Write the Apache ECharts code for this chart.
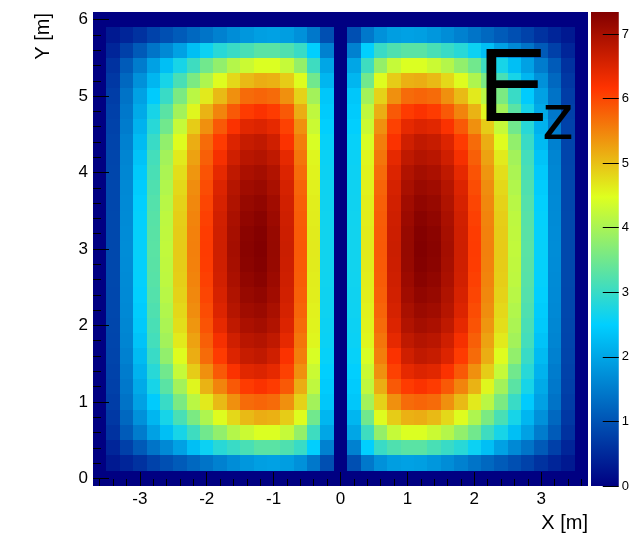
<!DOCTYPE html>
<html>
<head>
<meta charset="utf-8">
<script src="https://cdn.jsdelivr.net/npm/echarts@6/dist/echarts.min.js"></script>
<style>
  html, body { margin: 0; padding: 0; background: #ffffff; }
  #chart { width: 632px; height: 537px; }
</style>
</head>
<body>
<div id="chart"></div>
<script>
// Histogram bin centres (m); bins are 0.2 m wide
const xBins = [-3.6, -3.4, -3.2, -3.0, -2.8, -2.6, -2.4, -2.2, -2.0, -1.8, -1.6, -1.4, -1.2, -1.0, -0.8, -0.6, -0.4, -0.2,
  0.0, 0.2, 0.4, 0.6, 0.8, 1.0, 1.2, 1.4, 1.6, 1.8, 2.0, 2.2, 2.4, 2.6, 2.8, 3.0, 3.2, 3.4, 3.6];
const yBins = [0.0, 0.2, 0.4, 0.6, 0.8, 1.0, 1.2, 1.4, 1.6, 1.8, 2.0, 2.2, 2.4, 2.6, 2.8, 3.0,
  3.2, 3.4, 3.6, 3.8, 4.0, 4.2, 4.4, 4.6, 4.8, 5.0, 5.2, 5.4, 5.6, 5.8, 6.0];

// Ez in the left cell, x = -3.4 ... -0.2; rows run from y = 5.8 down to y = 0.2
const ezLeft = [
  [0.30, 0.45, 0.60, 0.80, 0.95, 1.10, 1.25, 1.40, 1.55, 1.70, 1.82, 1.92, 1.95, 1.90, 1.75, 1.45, 0.95],
  [0.45, 0.78, 1.08, 1.40, 1.65, 1.95, 2.30, 2.60, 2.85, 3.00, 3.15, 3.30, 3.30, 3.20, 3.00, 2.50, 1.55],
  [0.60, 1.10, 1.50, 1.95, 2.30, 2.70, 3.05, 3.50, 3.80, 4.10, 4.30, 4.45, 4.45, 4.25, 3.82, 3.05, 2.00],
  [0.68, 1.25, 1.75, 2.20, 2.70, 3.15, 3.60, 4.05, 4.50, 4.80, 5.05, 5.15, 5.12, 4.90, 4.50, 3.50, 2.20],
  [0.74, 1.38, 1.95, 2.45, 3.00, 3.60, 4.15, 4.65, 5.05, 5.40, 5.70, 5.75, 5.70, 5.40, 4.85, 3.95, 2.40],
  [0.78, 1.45, 2.05, 2.70, 3.30, 3.95, 4.55, 5.10, 5.50, 5.85, 6.10, 6.20, 6.10, 5.85, 5.15, 4.20, 2.45],
  [0.80, 1.50, 2.15, 2.85, 3.50, 4.25, 4.90, 5.40, 5.85, 6.20, 6.45, 6.50, 6.40, 6.05, 5.40, 4.30, 2.50],
  [0.82, 1.55, 2.25, 3.00, 3.80, 4.50, 5.15, 5.70, 6.10, 6.50, 6.70, 6.75, 6.62, 6.20, 5.55, 4.42, 2.55],
  [0.83, 1.60, 2.35, 3.10, 3.95, 4.65, 5.25, 5.80, 6.25, 6.62, 6.82, 6.88, 6.76, 6.40, 5.62, 4.55, 2.58],
  [0.84, 1.62, 2.42, 3.15, 4.02, 4.75, 5.35, 5.90, 6.40, 6.76, 6.96, 7.02, 6.90, 6.50, 5.70, 4.58, 2.60],
  [0.85, 1.65, 2.46, 3.20, 4.08, 4.80, 5.42, 5.96, 6.50, 6.86, 7.06, 7.12, 6.98, 6.56, 5.76, 4.60, 2.62],
  [0.85, 1.67, 2.50, 3.24, 4.14, 4.85, 5.46, 6.02, 6.55, 6.92, 7.14, 7.20, 7.05, 6.60, 5.80, 4.62, 2.63],
  [0.86, 1.68, 2.52, 3.27, 4.18, 4.88, 5.50, 6.06, 6.60, 6.97, 7.20, 7.27, 7.10, 6.63, 5.82, 4.63, 2.64],
  [0.86, 1.69, 2.53, 3.29, 4.20, 4.90, 5.52, 6.09, 6.62, 7.00, 7.25, 7.32, 7.14, 6.65, 5.84, 4.64, 2.65],
  [0.86, 1.70, 2.54, 3.30, 4.22, 4.91, 5.53, 6.10, 6.63, 7.02, 7.27, 7.34, 7.15, 6.66, 5.85, 4.65, 2.65],
  [0.86, 1.69, 2.53, 3.29, 4.20, 4.90, 5.52, 6.09, 6.62, 7.00, 7.25, 7.32, 7.14, 6.65, 5.84, 4.64, 2.65],
  [0.86, 1.68, 2.52, 3.27, 4.18, 4.88, 5.50, 6.06, 6.60, 6.97, 7.20, 7.27, 7.10, 6.63, 5.82, 4.63, 2.64],
  [0.85, 1.67, 2.50, 3.24, 4.14, 4.85, 5.46, 6.02, 6.55, 6.92, 7.14, 7.20, 7.05, 6.60, 5.80, 4.62, 2.63],
  [0.85, 1.65, 2.46, 3.20, 4.08, 4.80, 5.42, 5.96, 6.50, 6.86, 7.06, 7.12, 6.98, 6.56, 5.76, 4.60, 2.62],
  [0.84, 1.62, 2.42, 3.15, 4.02, 4.75, 5.35, 5.90, 6.40, 6.76, 6.96, 7.02, 6.90, 6.50, 5.70, 4.58, 2.60],
  [0.83, 1.60, 2.35, 3.10, 3.95, 4.65, 5.25, 5.80, 6.25, 6.62, 6.82, 6.88, 6.76, 6.40, 5.62, 4.55, 2.58],
  [0.82, 1.55, 2.25, 3.00, 3.80, 4.50, 5.15, 5.70, 6.10, 6.50, 6.70, 6.75, 6.62, 6.20, 5.55, 4.42, 2.55],
  [0.80, 1.50, 2.15, 2.85, 3.50, 4.25, 4.90, 5.40, 5.85, 6.20, 6.45, 6.50, 6.40, 6.05, 5.40, 4.30, 2.50],
  [0.78, 1.45, 2.05, 2.70, 3.30, 3.95, 4.55, 5.10, 5.50, 5.85, 6.10, 6.20, 6.10, 5.85, 5.15, 4.20, 2.45],
  [0.74, 1.38, 1.95, 2.45, 3.00, 3.60, 4.15, 4.65, 5.05, 5.40, 5.70, 5.75, 5.70, 5.40, 4.85, 3.95, 2.40],
  [0.68, 1.25, 1.75, 2.20, 2.70, 3.15, 3.60, 4.05, 4.50, 4.80, 5.05, 5.15, 5.12, 4.90, 4.50, 3.50, 2.20],
  [0.60, 1.10, 1.50, 1.95, 2.30, 2.70, 3.05, 3.50, 3.80, 4.10, 4.30, 4.45, 4.45, 4.25, 3.82, 3.05, 2.00],
  [0.45, 0.78, 1.08, 1.40, 1.65, 1.95, 2.30, 2.60, 2.85, 3.00, 3.15, 3.30, 3.30, 3.20, 3.00, 2.50, 1.55],
  [0.30, 0.45, 0.60, 0.80, 0.95, 1.10, 1.25, 1.40, 1.55, 1.70, 1.82, 1.92, 1.95, 1.90, 1.75, 1.45, 0.95]
];

// Ez in the right cell, x = 0.2 ... 3.4; rows run from y = 5.8 down to y = 0.2
const ezRight = [
  [0.95, 1.45, 1.75, 1.90, 1.95, 1.92, 1.82, 1.70, 1.55, 1.40, 1.25, 1.10, 0.95, 0.80, 0.60, 0.45, 0.30],
  [1.55, 2.50, 3.00, 3.20, 3.30, 3.30, 3.15, 3.00, 2.85, 2.60, 2.30, 1.95, 1.65, 1.40, 1.08, 0.78, 0.45],
  [2.00, 3.05, 3.82, 4.25, 4.45, 4.45, 4.30, 4.10, 3.80, 3.50, 3.05, 2.70, 2.30, 1.95, 1.50, 1.10, 0.60],
  [2.20, 3.50, 4.50, 4.90, 5.12, 5.15, 5.05, 4.80, 4.50, 4.05, 3.60, 3.15, 2.70, 2.20, 1.75, 1.25, 0.68],
  [2.40, 3.95, 4.85, 5.40, 5.70, 5.75, 5.70, 5.40, 5.05, 4.65, 4.15, 3.60, 3.00, 2.45, 1.95, 1.38, 0.74],
  [2.45, 4.20, 5.15, 5.85, 6.10, 6.20, 6.10, 5.85, 5.50, 5.10, 4.55, 3.95, 3.30, 2.70, 2.05, 1.45, 0.78],
  [2.50, 4.30, 5.40, 6.05, 6.40, 6.50, 6.45, 6.20, 5.85, 5.40, 4.90, 4.25, 3.50, 2.85, 2.15, 1.50, 0.80],
  [2.55, 4.42, 5.55, 6.20, 6.62, 6.75, 6.70, 6.50, 6.10, 5.70, 5.15, 4.50, 3.80, 3.00, 2.25, 1.55, 0.82],
  [2.58, 4.55, 5.62, 6.40, 6.76, 6.88, 6.82, 6.62, 6.25, 5.80, 5.25, 4.65, 3.95, 3.10, 2.35, 1.60, 0.83],
  [2.60, 4.58, 5.70, 6.50, 6.90, 7.02, 6.96, 6.76, 6.40, 5.90, 5.35, 4.75, 4.02, 3.15, 2.42, 1.62, 0.84],
  [2.62, 4.60, 5.76, 6.56, 6.98, 7.12, 7.06, 6.86, 6.50, 5.96, 5.42, 4.80, 4.08, 3.20, 2.46, 1.65, 0.85],
  [2.63, 4.62, 5.80, 6.60, 7.05, 7.20, 7.14, 6.92, 6.55, 6.02, 5.46, 4.85, 4.14, 3.24, 2.50, 1.67, 0.85],
  [2.64, 4.63, 5.82, 6.63, 7.10, 7.27, 7.20, 6.97, 6.60, 6.06, 5.50, 4.88, 4.18, 3.27, 2.52, 1.68, 0.86],
  [2.65, 4.64, 5.84, 6.65, 7.14, 7.32, 7.25, 7.00, 6.62, 6.09, 5.52, 4.90, 4.20, 3.29, 2.53, 1.69, 0.86],
  [2.65, 4.65, 5.85, 6.66, 7.15, 7.34, 7.27, 7.02, 6.63, 6.10, 5.53, 4.91, 4.22, 3.30, 2.54, 1.70, 0.86],
  [2.65, 4.64, 5.84, 6.65, 7.14, 7.32, 7.25, 7.00, 6.62, 6.09, 5.52, 4.90, 4.20, 3.29, 2.53, 1.69, 0.86],
  [2.64, 4.63, 5.82, 6.63, 7.10, 7.27, 7.20, 6.97, 6.60, 6.06, 5.50, 4.88, 4.18, 3.27, 2.52, 1.68, 0.86],
  [2.63, 4.62, 5.80, 6.60, 7.05, 7.20, 7.14, 6.92, 6.55, 6.02, 5.46, 4.85, 4.14, 3.24, 2.50, 1.67, 0.85],
  [2.62, 4.60, 5.76, 6.56, 6.98, 7.12, 7.06, 6.86, 6.50, 5.96, 5.42, 4.80, 4.08, 3.20, 2.46, 1.65, 0.85],
  [2.60, 4.58, 5.70, 6.50, 6.90, 7.02, 6.96, 6.76, 6.40, 5.90, 5.35, 4.75, 4.02, 3.15, 2.42, 1.62, 0.84],
  [2.58, 4.55, 5.62, 6.40, 6.76, 6.88, 6.82, 6.62, 6.25, 5.80, 5.25, 4.65, 3.95, 3.10, 2.35, 1.60, 0.83],
  [2.55, 4.42, 5.55, 6.20, 6.62, 6.75, 6.70, 6.50, 6.10, 5.70, 5.15, 4.50, 3.80, 3.00, 2.25, 1.55, 0.82],
  [2.50, 4.30, 5.40, 6.05, 6.40, 6.50, 6.45, 6.20, 5.85, 5.40, 4.90, 4.25, 3.50, 2.85, 2.15, 1.50, 0.80],
  [2.45, 4.20, 5.15, 5.85, 6.10, 6.20, 6.10, 5.85, 5.50, 5.10, 4.55, 3.95, 3.30, 2.70, 2.05, 1.45, 0.78],
  [2.40, 3.95, 4.85, 5.40, 5.70, 5.75, 5.70, 5.40, 5.05, 4.65, 4.15, 3.60, 3.00, 2.45, 1.95, 1.38, 0.74],
  [2.20, 3.50, 4.50, 4.90, 5.12, 5.15, 5.05, 4.80, 4.50, 4.05, 3.60, 3.15, 2.70, 2.20, 1.75, 1.25, 0.68],
  [2.00, 3.05, 3.82, 4.25, 4.45, 4.45, 4.30, 4.10, 3.80, 3.50, 3.05, 2.70, 2.30, 1.95, 1.50, 1.10, 0.60],
  [1.55, 2.50, 3.00, 3.20, 3.30, 3.30, 3.15, 3.00, 2.85, 2.60, 2.30, 1.95, 1.65, 1.40, 1.08, 0.78, 0.45],
  [0.95, 1.45, 1.75, 1.90, 1.95, 1.92, 1.82, 1.70, 1.55, 1.40, 1.25, 1.10, 0.95, 0.80, 0.60, 0.45, 0.30]
];

// Axis tick labels
const xTickLabels = [-3, -2, -1, 0, 1, 2, 3];
const yTickLabels = [0, 1, 2, 3, 4, 5, 6];
const zTickLabels = [0, 1, 2, 3, 4, 5, 6, 7];
const Z_MAX = 7.34;

// Colour palette stops (position in 0..1, r, g, b)
const PALETTE = [
  [0.00, 0, 0, 130],
  [0.34, 0, 207, 255],
  [0.61, 222, 255, 31],
  [0.84, 255, 51, 0],
  [1.00, 130, 0, 0]
];

function paletteColor(t) {
  for (let k = 1; k < PALETTE.length; k++) {
    if (t <= PALETTE[k][0] || k === PALETTE.length - 1) {
      const a = PALETTE[k - 1], b = PALETTE[k];
      const f = Math.max(0, Math.min(1, (t - a[0]) / (b[0] - a[0])));
      const c = [1, 2, 3].map(i => Math.round(a[i] + (b[i] - a[i]) * f));
      return 'rgb(' + c.join(',') + ')';
    }
  }
}
const paletteList = [];
for (let k = 0; k <= 255; k++) paletteList.push(paletteColor(k / 255));
const gradientStops = PALETTE.map(p => ({ offset: p[0], color: 'rgb(' + p[1] + ',' + p[2] + ',' + p[3] + ')' }));

// Assemble [x, y, Ez] cells; bins outside the two cells (outer ring, centre wall) are empty
const nX = xBins.length, nY = yBins.length;
const cells = [];
for (let j = 0; j < nY; j++) {
  const row = nY - 2 - j; // table row for this y bin
  for (let i = 0; i < nX; i++) {
    let v = 0;
    if (j > 0 && j < nY - 1) {
      if (i >= 1 && i <= 17) v = ezLeft[row][i - 1];
      else if (i >= 19 && i <= 35) v = ezRight[row][i - 19];
    }
    cells.push([xBins[i], yBins[j], v]);
  }
}

const HALF_BIN = (xBins[1] - xBins[0]) / 2;
const X_MIN = xBins[0] - HALF_BIN, X_MAX = xBins[nX - 1] + HALF_BIN;
const Y_MIN = yBins[0] - HALF_BIN, Y_MAX = yBins[nY - 1] + HALF_BIN;

// Minor tick positions every 0.2 m
const xMinor = [], yMinor = [];
for (let k = -18; k <= 18; k++) xMinor.push(Math.round(k * 2) / 10);
for (let k = 0; k <= 30; k++) yMinor.push(Math.round(k * 2) / 10);

const FONT = "'Liberation Sans', Arial, Helvetica, sans-serif";

function renderCell(params, api) {
  const x = api.value(0), y = api.value(1);
  const p0 = api.coord([x - HALF_BIN, y + HALF_BIN]);
  const p1 = api.coord([x + HALF_BIN, y - HALF_BIN]);
  const x0 = Math.round(p0[0]), y0 = Math.round(p0[1]);
  const x1 = Math.round(p1[0]), y1 = Math.round(p1[1]);
  return {
    type: 'rect',
    shape: { x: x0, y: y0, width: x1 - x0, height: y1 - y0 },
    style: { fill: api.visual('color') }
  };
}

function renderColorBar(params, api) {
  const top = api.coord([0, Z_MAX]);
  const bottom = api.coord([1, 0]);
  return {
    type: 'rect',
    shape: { x: top[0], y: top[1], width: bottom[0] - top[0], height: bottom[1] - top[1] },
    style: { fill: new echarts.graphic.LinearGradient(0, 1, 0, 0, gradientStops) }
  };
}

const tickLine = { color: '#000', width: 1 };
const noLine = { show: false, onZero: false };

const chart = echarts.init(document.getElementById('chart'));
chart.setOption({
  animation: false,
  backgroundColor: '#ffffff',
  grid: [
    { left: 93, top: 12, width: 495, height: 474 },
    { left: 591, top: 12, width: 29, height: 474 }
  ],
  xAxis: [
    {
      type: 'value', gridIndex: 0, position: 'bottom', min: X_MIN, max: X_MAX, z: 10,
      axisLine: noLine, splitLine: { show: false },
      axisTick: { show: true, inside: true, length: 14, lineStyle: tickLine, customValues: xTickLabels },
      axisLabel: { customValues: xTickLabels, margin: 5, fontSize: 17, color: '#000', fontFamily: FONT }
    },
    {
      type: 'value', gridIndex: 0, position: 'bottom', min: X_MIN, max: X_MAX, z: 10,
      axisLine: noLine, splitLine: { show: false },
      axisTick: { show: true, inside: true, length: 7, lineStyle: tickLine, customValues: xMinor },
      axisLabel: { show: false }
    },
    { type: 'value', gridIndex: 1, min: 0, max: 1, show: false, axisLine: noLine }
  ],
  yAxis: [
    {
      type: 'value', gridIndex: 0, position: 'left', min: Y_MIN, max: Y_MAX, z: 10,
      axisLine: noLine, splitLine: { show: false },
      axisTick: { show: true, inside: true, length: 16, lineStyle: tickLine, customValues: yTickLabels },
      axisLabel: { customValues: yTickLabels, margin: 5, fontSize: 17, color: '#000', fontFamily: FONT }
    },
    {
      type: 'value', gridIndex: 0, position: 'left', min: Y_MIN, max: Y_MAX, z: 10,
      axisLine: noLine, splitLine: { show: false },
      axisTick: { show: true, inside: true, length: 8, lineStyle: tickLine, customValues: yMinor },
      axisLabel: { show: false }
    },
    {
      type: 'value', gridIndex: 1, position: 'right', min: 0, max: Z_MAX, z: 10,
      axisLine: noLine, splitLine: { show: false },
      axisTick: { show: true, inside: true, length: 16, lineStyle: tickLine, customValues: zTickLabels },
      axisLabel: { customValues: zTickLabels, margin: 3, fontSize: 13, color: '#000', fontFamily: FONT }
    }
  ],
  visualMap: {
    show: false, type: 'continuous', min: 0, max: Z_MAX, dimension: 2, seriesIndex: 0,
    inRange: { color: paletteList }
  },
  series: [
    {
      type: 'custom', name: 'Ez', xAxisIndex: 0, yAxisIndex: 0, clip: true,
      encode: { x: 0, y: 1 }, renderItem: renderCell, data: cells, silent: true
    },
    {
      type: 'custom', name: 'palette', xAxisIndex: 2, yAxisIndex: 2,
      encode: { x: 0, y: 1 }, renderItem: renderColorBar, data: [[0, 0]], silent: true
    }
  ],
  graphic: [
    { type: 'text', z: 100, x: 478, y: 92, style: { text: 'E', fontSize: 104, fontFamily: FONT, fill: '#000', align: 'left', verticalAlign: 'middle' } },
    { type: 'text', z: 100, x: 542, y: 121, style: { text: 'z', fontSize: 65, fontFamily: FONT, fill: '#000', align: 'left', verticalAlign: 'middle' } },
    { type: 'text', z: 100, x: 588, y: 523, style: { text: 'X [m]', fontSize: 20, fontFamily: FONT, fill: '#000', align: 'right', verticalAlign: 'middle' } },
    { type: 'text', z: 100, x: 43, y: 13, rotation: Math.PI / 2, style: { text: 'Y [m]', fontSize: 20, fontFamily: FONT, fill: '#000', align: 'right', verticalAlign: 'middle' } }
  ]
});
</script>
</body>
</html>
